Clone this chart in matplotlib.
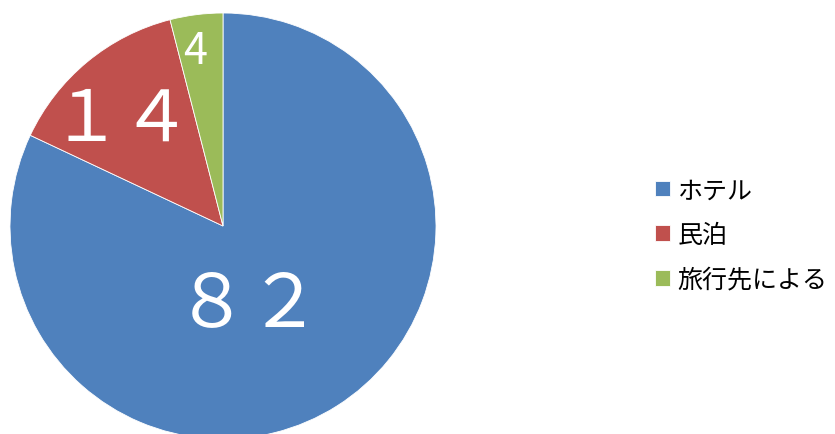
import matplotlib.pyplot as plt

plt.rcParams['font.family'] = ['Noto Sans CJK JP', 'DejaVu Sans']

# datos del gráfico
categorias = ['ホテル', '民泊', '旅行先による']
valores = [82, 14, 4]
etiquetas = ['８２', '１４', '4']
colores = ['#4F81BD', '#C0504D', '#9BBB59']

W, H = 835, 435
fig = plt.figure(figsize=(W / 100, H / 100), dpi=100)
ax = fig.add_axes([0, 0, 1, 1])

wedges, _ = ax.pie(valores, colors=colores, startangle=90, counterclock=False,
                   center=(223, H - 227), radius=213,
                   wedgeprops=dict(edgecolor='white', linewidth=0.6))
ax.set_xlim(0, W)
ax.set_ylim(0, H)
ax.set_aspect('equal')
ax.axis('off')

# posiciones de las etiquetas (pixeles de la imagen)
pos_etiquetas = [(248, 305, 53), (121, 120, 51), (195, 52, 31)]
for txt, (x, y, fs) in zip(etiquetas, pos_etiquetas):
    ax.text(x, H - y, txt, color='white', fontsize=fs, ha='center', va='center')

ax.legend(wedges, categorias, loc='center left', bbox_to_anchor=(645 / W, (H - 236) / H),
          frameon=False, fontsize=18, handlelength=0.6, handleheight=0.6,
          handletextpad=0.3, labelspacing=0.75, borderaxespad=0)

fig.savefig('out.png', dpi=100)
